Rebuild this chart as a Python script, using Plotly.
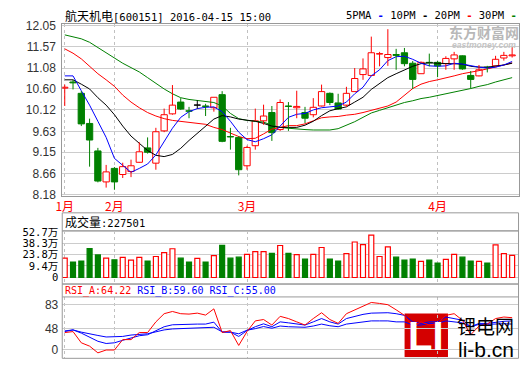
import plotly.graph_objects as go

# ---------------- data ----------------
dates = [
    "2016-01-22", "2016-01-25", "2016-01-26", "2016-01-27", "2016-01-28", "2016-01-29",
    "2016-02-01", "2016-02-02", "2016-02-03", "2016-02-04", "2016-02-05",
    "2016-02-15", "2016-02-16", "2016-02-17", "2016-02-18", "2016-02-19",
    "2016-02-22", "2016-02-23", "2016-02-24", "2016-02-25", "2016-02-26", "2016-02-29",
    "2016-03-01", "2016-03-02", "2016-03-03", "2016-03-04",
    "2016-03-07", "2016-03-08", "2016-03-09", "2016-03-10", "2016-03-11",
    "2016-03-14", "2016-03-15", "2016-03-16", "2016-03-17", "2016-03-18",
    "2016-03-21", "2016-03-22", "2016-03-23", "2016-03-24", "2016-03-25",
    "2016-03-28", "2016-03-29", "2016-03-30", "2016-03-31",
    "2016-04-01", "2016-04-05", "2016-04-06", "2016-04-07", "2016-04-08",
    "2016-04-11", "2016-04-12", "2016-04-13", "2016-04-14", "2016-04-15",
]

open_ = [10.62, 10.76, 10.50, 9.81, 9.18, 8.47, 8.78, 8.64, 8.71, 8.92,
         9.25, 8.90, 9.64, 10.03, 10.30, 10.10, 10.23, 10.21, 10.17, 10.47,
         9.51, 9.49, 8.84, 9.30, 9.87, 10.06, 9.67, 10.21, 10.17, 10.06,
         10.01, 10.21, 10.50, 10.28, 10.23, 10.54, 10.93, 10.91, 11.40, 11.32,
         11.39, 11.43, 11.19, 10.95, 11.21, 11.21, 11.18, 11.29, 11.36, 10.91,
         10.90, 11.10, 11.13, 11.31, 11.36]
high = [10.70, 10.81, 10.55, 9.92, 9.25, 8.86, 8.81, 8.91, 8.98, 9.38,
        9.49, 9.71, 10.15, 10.69, 10.39, 10.19, 10.34, 10.26, 10.41, 10.55,
        9.71, 9.52, 9.30, 10.15, 10.24, 10.21, 10.36, 10.30, 10.56, 10.19,
        10.39, 10.70, 10.52, 10.49, 10.65, 11.08, 11.30, 11.80, 11.45, 11.97,
        11.52, 11.54, 11.24, 11.23, 11.41, 11.24, 11.35, 11.45, 11.37, 11.01,
        11.15, 11.13, 11.36, 11.45, 11.56]
low = [10.21, 10.59, 9.75, 8.82, 8.46, 8.34, 8.29, 8.56, 8.58, 8.91,
       9.12, 8.75, 9.61, 10.01, 10.12, 9.93, 10.15, 9.98, 10.08, 9.38,
       9.21, 8.62, 8.75, 9.21, 9.78, 9.41, 9.64, 9.64, 9.93, 9.82,
       9.95, 10.20, 10.23, 10.12, 10.19, 10.54, 10.81, 10.91, 11.12, 11.13,
       11.04, 11.12, 10.60, 10.95, 11.12, 10.87, 11.04, 11.04, 11.04, 10.61,
       10.89, 10.98, 11.12, 11.25, 11.32]
close = [10.64, 10.74, 9.80, 9.43, 8.49, 8.70, 8.47, 8.82, 8.84, 9.16,
         9.15, 9.62, 10.01, 10.23, 10.14, 10.09, 10.23, 10.20, 10.41, 9.40,
         9.50, 8.75, 9.26, 9.87, 9.98, 9.60, 10.29, 10.20, 10.20, 9.93,
         10.18, 10.54, 10.29, 10.14, 10.50, 10.84, 11.06, 11.43, 11.41, 11.39,
         11.37, 11.18, 10.82, 11.21, 11.20, 11.13, 11.30, 11.38, 11.06, 10.82,
         11.04, 11.09, 11.28, 11.37, 11.38]

ma5 = [10.90, 10.90, 10.56, 10.23, 9.86, 9.49, 9.01, 8.84, 8.69, 8.78,
       8.88, 9.09, 9.39, 9.70, 9.95, 10.08, 10.15, 10.18, 10.19, 10.08,
       9.86, 9.61, 9.44, 9.39, 9.46, 9.55, 9.75, 9.95, 10.02, 10.04,
       10.12, 10.17, 10.19, 10.21, 10.30, 10.49, 10.64, 10.90, 11.04, 11.25,
       11.34, 11.35, 11.28, 11.19, 11.13, 11.12, 11.13, 11.19, 11.17, 11.13,
       11.10, 11.08, 11.10, 11.15, 11.23]
ma10 = [10.81, 10.81, 10.71, 10.60, 10.40, 10.23, 10.01, 9.75, 9.52, 9.35,
        9.19, 9.08, 9.05, 9.10, 9.24, 9.42, 9.59, 9.76, 9.91, 9.99,
        9.96, 9.91, 9.88, 9.86, 9.81, 9.75, 9.72, 9.72, 9.72, 9.77,
        9.86, 9.99, 10.10, 10.15, 10.19, 10.30, 10.41, 10.59, 10.72, 10.86,
        10.95, 11.04, 11.12, 11.18, 11.20, 11.19, 11.18, 11.18, 11.17, 11.12,
        11.10, 11.10, 11.12, 11.15, 11.19]
ma20 = [11.52, 11.42, 11.29, 11.11, 10.95, 10.81, 10.66, 10.46, 10.30, 10.17,
        10.06, 9.98, 9.92, 9.88, 9.86, 9.84, 9.81, 9.79, 9.72, 9.67,
        9.59, 9.51, 9.46, 9.47, 9.57, 9.68, 9.72, 9.76, 9.76, 9.80,
        9.87, 9.94, 9.96, 9.97, 10.00, 10.02, 10.06, 10.11, 10.16, 10.21,
        10.30, 10.46, 10.61, 10.71, 10.77, 10.81, 10.85, 10.90, 10.95, 10.98,
        11.02, 11.06, 11.10, 11.15, 11.20]
ma30 = [11.84, 11.80, 11.75, 11.67, 11.55, 11.41, 11.30, 11.19, 11.09, 10.99,
        10.86, 10.72, 10.60, 10.49, 10.40, 10.36, 10.34, 10.31, 10.29, 10.21,
        10.04, 9.92, 9.88, 9.86, 9.84, 9.77, 9.72, 9.70, 9.68, 9.67,
        9.66, 9.66, 9.66, 9.69, 9.77, 9.85, 9.95, 10.05, 10.11, 10.17,
        10.24, 10.29, 10.33, 10.38, 10.41, 10.45, 10.48, 10.52, 10.57, 10.61,
        10.66, 10.70, 10.76, 10.81, 10.86]

# volume in 万 shares
volume = [19.3, 14.3, 15.6, 31.6, 23.4, 19.3, 17.2, 20.2, 16.8, 20.2,
          15.6, 21.4, 26.3, 31.3, 19.3, 14.3, 18.9, 14.3, 22.6, 35.7,
          19.3, 20.5, 24.2, 27.6, 27.6, 25.5, 35.4, 25.5, 23.9, 18.1,
          24.2, 32.9, 18.1, 15.6, 25.1, 39.9, 36.6, 48.6, 21.4, 33.7,
          20.5, 16.8, 18.1, 15.2, 16.8, 13.1, 17.7, 24.2, 20.5, 15.6,
          15.2, 13.1, 36.2, 25.1, 22.75]

rsi_a = [42.8, 44.2, 28.0, 23.2, 13.5, 17.6, 17.6, 32.6, 32.6, 42.8,
         42.8, 58.2, 70.0, 73.2, 70.0, 69.4, 70.8, 68.0, 77.0, 42.8,
         45.6, 24.2, 44.2, 59.6, 61.6, 53.6, 66.2, 63.0, 58.2, 53.6,
         63.0, 71.4, 61.6, 56.0, 70.0, 75.6, 80.2, 86.2, 84.8, 83.0,
         75.6, 67.6, 51.2, 58.2, 53.6, 56.0, 67.6, 70.0, 60.6, 39.6,
         52.2, 55.0, 63.0, 65.2, 64.22]
rsi_b = [45.2, 46.6, 42.0, 36.4, 30.2, 27.0, 28.0, 31.6, 35.0, 38.2,
         39.6, 45.6, 51.2, 54.0, 54.6, 54.6, 55.0, 55.0, 57.8, 43.4,
         43.4, 37.2, 45.6, 51.2, 55.4, 51.2, 58.2, 56.8, 55.0, 53.6,
         58.2, 63.0, 58.2, 55.0, 63.0, 66.2, 69.0, 70.8, 71.4, 71.4,
         70.0, 67.6, 58.2, 56.0, 58.2, 58.2, 65.2, 63.0, 60.6, 51.2,
         56.0, 56.0, 58.0, 59.0, 59.60]
rsi_c = [44.2, 46.6, 43.4, 40.6, 38.6, 36.4, 36.4, 37.2, 39.2, 40.0,
         41.0, 43.8, 46.6, 48.0, 48.4, 48.4, 49.0, 49.0, 50.4, 43.8,
         43.4, 41.0, 46.2, 48.4, 51.5, 49.0, 52.2, 51.2, 51.2, 50.4,
         52.2, 55.0, 52.6, 51.2, 55.0, 56.8, 58.2, 59.6, 59.6, 59.6,
         58.2, 58.2, 53.6, 53.6, 56.0, 56.0, 59.6, 58.2, 56.8, 51.2,
         54.6, 54.6, 55.5, 55.5, 55.00]

price_ticks = [8.18, 8.66, 9.15, 9.63, 10.12, 10.60, 11.08, 11.57, 12.05]
vol_ticks = [9.4, 23.8, 38.3, 52.7]
rsi_ticks = [48, 83]
month_idx = [0, 6, 22, 45]
month_labels = ["1月", "2月", "3月", "4月"]

# ---------------- styling / layout helpers ----------------
W, H = 520, 365
RED, GREEN, BLUE, BLACK = "#ff0000", "#008000", "#0000ff", "#000000"
BORDER = "#999999"
GRID = "#cccccc"
X_L, X_R = 56, 518.5
VOL_FLOOR = -5.4      # value at the volume baseline (labelled "0")
RSI_FLOOR = 18.6      # position of the RSI "0" label


def px(x):
    return x / W


def py(y):
    return 1 - y / H


fig = go.Figure()

# moving averages
for vals, col in [(ma30, GREEN), (ma20, RED), (ma10, BLACK), (ma5, BLUE)]:
    fig.add_trace(go.Scatter(x=dates, y=vals, mode="lines", line=dict(color=col, width=1),
                             xaxis="x", yaxis="y", showlegend=False, hoverinfo="skip"))

# candles
groups = {"up": [], "down": [], "flat": []}
for i in range(len(dates)):
    if close[i] > open_[i]:
        groups["up"].append(i)
    elif close[i] < open_[i]:
        groups["down"].append(i)
    else:
        groups["flat"].append(i)

style = {"up": (RED, "#ffffff"), "down": (GREEN, GREEN), "flat": (BLACK, BLACK)}
for g, idx in groups.items():
    lc, fc = style[g]
    wx, wy = [], []
    for i in idx:
        top, bot = max(open_[i], close[i]), min(open_[i], close[i])
        wx += [dates[i]] * 6
        wy += [top, high[i], None, low[i], bot, None]
    fig.add_trace(go.Scatter(x=wx, y=wy, mode="lines", line=dict(color=lc, width=1),
                             xaxis="x", yaxis="y", showlegend=False, hoverinfo="skip"))
    fig.add_trace(go.Bar(
        x=[dates[i] for i in idx],
        base=[min(open_[i], close[i]) for i in idx],
        y=[max(abs(close[i] - open_[i]), 0.004) for i in idx],
        width=0.76, marker=dict(color=fc, line=dict(color=lc, width=1)),
        xaxis="x", yaxis="y", showlegend=False, hoverinfo="skip"))

# volume
for up in (True, False):
    idx = [i for i in range(len(dates)) if (close[i] >= open_[i]) == up]
    fig.add_trace(go.Bar(
        x=[dates[i] for i in idx],
        base=[VOL_FLOOR] * len(idx),
        y=[volume[i] - VOL_FLOOR for i in idx],
        width=0.6,
        marker=dict(color="#ffffff" if up else GREEN, line=dict(color=RED if up else GREEN, width=1.2)),
        xaxis="x2", yaxis="y2", showlegend=False, hoverinfo="skip"))

# RSI
for vals, col in [(rsi_c, BLUE), (rsi_b, BLUE), (rsi_a, RED)]:
    fig.add_trace(go.Scatter(x=dates, y=vals, mode="lines", line=dict(color=col, width=1),
                             xaxis="x3", yaxis="y3", showlegend=False, hoverinfo="skip"))

xr = [-0.3, 54.77]
month_vals = [dates[i] for i in month_idx]
xcommon = dict(type="category", categoryorder="array", categoryarray=dates, range=xr,
               domain=[px(X_L), px(X_R)], tickvals=month_vals, showgrid=True,
               gridcolor="#c0c0c0", griddash="3px,3px", gridwidth=1, zeroline=False,
               ticks="", fixedrange=True)

yfont = dict(family="Liberation Sans, Arial", size=12, color="#333333")

fig.update_layout(
    width=W, height=H, margin=dict(l=0, r=0, t=0, b=0),
    paper_bgcolor="white", plot_bgcolor="white", barmode="overlay", showlegend=False,
    xaxis=dict(**xcommon, anchor="y", ticktext=month_labels, showticklabels=True,
               tickfont=dict(family="Noto Sans CJK SC", size=12, color=RED),
               showline=True, mirror=True, linecolor=BORDER, linewidth=1),
    yaxis=dict(domain=[py(196.5), py(20)], range=[8.157, 12.08], tickvals=price_ticks,
               ticktext=["%.2f" % v for v in price_ticks], tickfont=yfont,
               showgrid=True, gridcolor=GRID, zeroline=False, ticks="",
               showline=True, mirror=True, linecolor=BORDER, linewidth=1,
               ticklabelstandoff=3, fixedrange=True),
    xaxis2=dict(**xcommon, anchor="y2", showticklabels=False),
    yaxis2=dict(domain=[py(287.7), py(232.7)], range=[-13.7, 54.3],
                tickvals=[VOL_FLOOR] + vol_ticks,
                ticktext=["0"] + ["%.1f万" % v for v in vol_ticks],
                tickfont=dict(family="DejaVu Sans Mono, Noto Sans CJK SC", size=10.5, color="#000000"),
                showgrid=True, gridcolor=GRID, zeroline=False, ticks="",
                ticklabelstandoff=3, fixedrange=True),
    xaxis3=dict(**xcommon, anchor="y3", showticklabels=False),
    yaxis3=dict(domain=[py(364.3), py(301)], range=[5.6, 94.2],
                tickvals=[RSI_FLOOR] + rsi_ticks,
                ticktext=["0"] + [str(v) for v in rsi_ticks],
                tickfont=yfont, showgrid=True, gridcolor=GRID, zeroline=False, ticks="",
                ticklabelstandoff=3, fixedrange=True),
)

shapes = [
    dict(type="rect", xref="paper", yref="paper", x0=px(X_L), x1=px(X_R), y0=py(287.7), y1=py(214.3),
         line=dict(color=BORDER, width=1)),
    dict(type="line", xref="paper", yref="paper", x0=px(X_L), x1=px(X_R), y0=py(232.7), y1=py(232.7),
         line=dict(color=BORDER, width=1)),
    dict(type="rect", xref="paper", yref="paper", x0=px(X_L), x1=px(X_R), y0=py(364.3), y1=py(287.7),
         line=dict(color=BORDER, width=1)),
    dict(type="line", xref="paper", yref="paper", x0=px(X_L), x1=px(X_R), y0=py(301), y1=py(301),
         line=dict(color=BORDER, width=1)),
    dict(type="rect", xref="paper", yref="paper", x0=px(403), x1=px(447), y0=py(363), y1=py(318),
         fillcolor="#d40000", line=dict(width=0), layer="below"),
]
fig.update_layout(shapes=shapes)

mono = "DejaVu Sans Mono"
cjk = "Noto Sans CJK SC"
ann = [
    dict(x=px(57), y=py(10.5), xanchor="left", yanchor="middle",
         text='<span style="font-family:Noto Sans CJK SC;font-size:12px">航天机电</span>[600151] 2016-04-15 15:00',
         font=dict(family=mono, size=10.5, color="#000000")),
    dict(x=px(519), y=py(10.5), xanchor="right", yanchor="middle",
         text='5PMA <span style="color:#0000ff"><b>-</b></span> 10PM <span style="color:#000000"><b>-</b></span> '
              '20PM <span style="color:#ff0000"><b>-</b></span> 30PM <span style="color:#008000"><b>-</b></span>',
         font=dict(family=mono, size=10.5, color="#000000")),
    dict(x=px(57), y=py(223.5), xanchor="left", yanchor="middle",
         text='<span style="font-family:Noto Sans CJK SC;font-size:12px">成交量</span>:227501',
         font=dict(family=mono, size=10.5, color="#000000")),
    dict(x=px(57), y=py(294.5), xanchor="left", yanchor="middle",
         text='<span style="color:#ff0000">RSI_A:64.22</span> RSI_B:59.60 RSI_C:55.00',
         font=dict(family=mono, size=10, color=BLUE)),
    dict(x=px(484), y=py(28), xanchor="center", yanchor="middle", text="<b>东方财富网</b>",
         font=dict(family=cjk, size=14, color="#b8b8b8")),
    dict(x=px(484), y=py(41.5), xanchor="center", yanchor="middle", text="<b><i>eastmoney.com</i></b>",
         font=dict(family="Liberation Sans", size=8.5, color="#c4c4c4")),
    dict(x=px(425), y=py(341), xanchor="center", yanchor="middle", text="<b>LI</b>",
         font=dict(family="Liberation Sans", size=40, color="#ffffff")),
    dict(x=px(485), y=py(330), xanchor="center", yanchor="middle", text="锂电网",
         font=dict(family=cjk, size=19, color="#000000")),
    dict(x=px(486), y=py(355), xanchor="center", yanchor="middle", text="li-b.cn",
         font=dict(family="Liberation Sans", size=21, color="#000000")),
]
for a in ann:
    a.update(xref="paper", yref="paper", showarrow=False)
fig.update_layout(annotations=ann)

fig.write_html("out.html", config={"displayModeBar": False},
               post_script="document.body.style.margin='0';document.body.style.padding='0';")
